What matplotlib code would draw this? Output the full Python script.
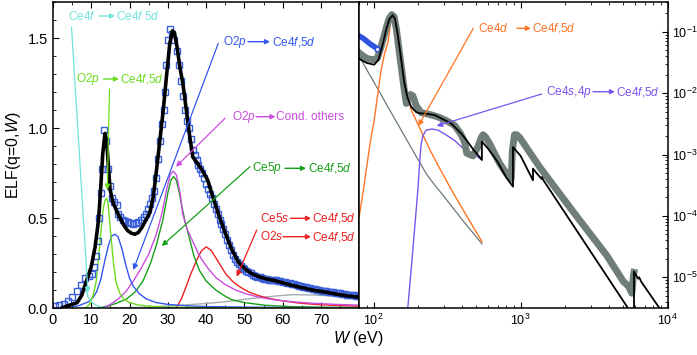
import matplotlib
matplotlib.use('Agg')
import matplotlib.pyplot as plt
from matplotlib.patches import FancyArrowPatch
from matplotlib.ticker import MultipleLocator, LogLocator, NullFormatter

plt.rcParams['font.family'] = ['Liberation Sans', 'DejaVu Sans']
plt.rcParams['mathtext.fontset'] = 'custom'
plt.rcParams['mathtext.rm'] = 'Liberation Sans'
plt.rcParams['mathtext.it'] = 'Liberation Sans:italic'

# ---- left panel: ELF, linear scale (W in eV) ----
w_exp = [0.5, 1.6, 2.8, 4.0, 5.0, 6.2, 7.3, 8.3, 9.3, 10.2, 10.8, 11.3, 11.7, 12.1, 12.5, 12.9,
         13.4, 13.8, 14.3, 14.9, 15.4, 16.0, 16.6, 17.1, 17.6, 18.2, 18.8, 19.5, 20.2, 20.9,
         21.6, 22.3, 23.0, 23.7, 24.3, 24.9, 25.4, 25.9, 26.4, 26.9, 27.4, 27.9, 28.4, 28.9,
         29.3, 29.6, 30.0, 30.5, 31.2, 31.7, 32.3, 32.9, 33.4, 33.9, 34.5, 35.0, 35.5, 36.0,
         36.5, 37.0, 37.5, 38.0, 38.5, 39.0, 39.5, 40.0, 40.5, 41.0, 41.5, 42.0, 42.5, 43.0,
         43.5, 44.0, 44.5, 45.0, 45.5, 46.0, 46.5, 47.0, 47.5, 48.0, 48.5, 49.0, 49.5, 50.0,
         50.5, 51.0, 51.6, 52.2, 52.8, 53.4, 54.0, 54.6, 55.2, 55.8, 56.4, 57.0, 57.6, 58.2,
         58.8, 59.4, 60.0, 60.6, 61.2, 61.8, 62.4, 63.0, 63.6, 64.2, 64.8, 65.4, 66.0, 66.6,
         67.2, 67.8, 68.4, 69.0, 69.6, 70.2, 70.8, 71.4, 72.0, 72.6, 73.2, 73.8, 74.4, 75.0,
         75.6, 76.2, 76.8, 77.4, 78.0, 78.6, 79.2, 79.8]
elf_exp = [0.012, 0.016, 0.024, 0.04, 0.06, 0.095, 0.13, 0.165, 0.18, 0.19, 0.23, 0.29, 0.37,
           0.5, 0.64, 0.77, 0.99, 0.93, 0.77, 0.68, 0.61, 0.59, 0.57, 0.525, 0.505, 0.49, 0.485,
           0.478, 0.472, 0.469, 0.475, 0.48, 0.49, 0.505, 0.525, 0.55, 0.58, 0.61, 0.65, 0.72,
           0.83, 0.93, 1.02, 1.1, 1.2, 1.35, 1.49, 1.55, 1.52, 1.49, 1.43, 1.35, 1.26, 1.18,
           1.1, 1.04, 1.0, 0.94, 0.88, 0.85, 0.82, 0.795, 0.77, 0.75, 0.72, 0.69, 0.66, 0.635,
           0.61, 0.58, 0.55, 0.52, 0.49, 0.465, 0.44, 0.41, 0.38, 0.35, 0.32, 0.295, 0.275,
           0.258, 0.243, 0.232, 0.223, 0.215, 0.207, 0.2, 0.193, 0.186, 0.18, 0.175, 0.17,
           0.166, 0.163, 0.16, 0.158, 0.156, 0.155, 0.153, 0.151, 0.149, 0.146, 0.143, 0.14,
           0.137, 0.134, 0.131, 0.128, 0.125, 0.122, 0.119, 0.116, 0.113, 0.11, 0.107, 0.104,
           0.102, 0.1, 0.097, 0.095, 0.093, 0.091, 0.089, 0.087, 0.085, 0.083, 0.081, 0.079,
           0.077, 0.075, 0.073, 0.072, 0.07, 0.069, 0.068]

w_tot = [2.4, 3.5, 5.0, 6.3, 7.5, 8.9, 10.0, 11.0, 11.9, 12.5, 13.0, 13.6, 14.0, 14.5, 14.9,
         15.6, 16.6, 17.5, 18.5, 19.5, 20.5, 21.4, 22.3, 23.3, 24.3, 25.3, 26.2, 27.0, 27.9,
         28.8, 29.7, 30.5, 31.2, 31.7, 32.4, 33.2, 33.9, 34.7, 35.6, 36.5, 37.5, 39.0, 40.4,
         41.7, 43.4, 45.1, 46.8, 48.6, 50.3, 52.0, 54.0, 56.0, 58.0, 60.0, 62.4, 65.0, 68.0,
         71.0, 74.0, 77.0, 80.0]
elf_tot = [0.0, 0.01, 0.02, 0.03, 0.07, 0.16, 0.23, 0.34, 0.49, 0.68, 0.86, 0.97, 0.93, 0.78,
           0.66, 0.59, 0.54, 0.5, 0.46, 0.43, 0.415, 0.41, 0.42, 0.45, 0.49, 0.53, 0.62, 0.76,
           0.93, 1.1, 1.3, 1.47, 1.54, 1.53, 1.45, 1.33, 1.25, 1.12, 0.97, 0.84, 0.81, 0.765,
           0.71, 0.62, 0.51, 0.41, 0.32, 0.25, 0.215, 0.19, 0.172, 0.16, 0.152, 0.14, 0.126,
           0.113, 0.099, 0.089, 0.077, 0.067, 0.06]

w_cyan = [8.6, 9.2, 10.0, 11.0, 12.0, 13.0, 15.0]
elf_cyan = [0.1, 0.06, 0.035, 0.018, 0.008, 0.003, 0.0]

w_lime = [8.5, 9.5, 10.5, 11.3, 11.9, 12.5, 13.1, 13.6, 14.0, 14.4, 15.0, 15.8, 16.5, 17.5,
          18.5, 20.0, 22.0, 25.0, 30.0, 40.0, 80.0]
elf_lime = [0.0, 0.02, 0.07, 0.15, 0.28, 0.42, 0.55, 0.6, 0.61, 0.58, 0.43, 0.25, 0.14, 0.08,
            0.05, 0.03, 0.018, 0.01, 0.005, 0.002, 0.0]

w_blue = [3, 5, 7, 9.3, 10.5, 11.4, 12.5, 13.5, 14.5, 15.3, 16.2, 17, 18, 19, 20, 21, 22.5,
          24.4, 27, 30, 35, 40, 50, 60, 80]
elf_blue = [0.0, 0.005, 0.015, 0.035, 0.06, 0.09, 0.16, 0.26, 0.35, 0.4, 0.41, 0.395, 0.33,
            0.24, 0.165, 0.12, 0.08, 0.05, 0.03, 0.02, 0.012, 0.008, 0.005, 0.003, 0.002]

w_mag = [13, 15, 17, 19, 21, 23, 25, 27, 28.5, 29.7, 30.6, 31.4, 32.2, 33.2, 33.9, 35, 36.5,
         38, 39, 40.5, 42.5, 45, 47.7, 50.5, 53.8, 58, 62.4, 68, 74, 80]
elf_mag = [0.0, 0.02, 0.05, 0.09, 0.15, 0.22, 0.3, 0.41, 0.53, 0.66, 0.74, 0.76, 0.74, 0.64,
           0.52, 0.44, 0.37, 0.3, 0.265, 0.22, 0.17, 0.13, 0.1, 0.078, 0.06, 0.045, 0.035,
           0.026, 0.02, 0.016]

w_ce5p = [12, 15, 17, 19.2, 21.5, 23.5, 25.5, 27, 28.7, 30, 30.8, 31.5, 32.2, 33, 33.5, 34.5,
          35.6, 36.8, 38.2, 40, 42.5, 45, 46.8, 50, 55.5, 62, 70, 80]
elf_ce5p = [0.0, 0.015, 0.03, 0.05, 0.09, 0.15, 0.25, 0.35, 0.49, 0.64, 0.71, 0.73, 0.71, 0.64,
            0.58, 0.48, 0.39, 0.29, 0.21, 0.15, 0.1, 0.065, 0.045, 0.03, 0.015, 0.008, 0.004,
            0.002]

w_red = [32.2, 33.5, 34.8, 36, 37.4, 38.7, 40, 41.3, 42.5, 43.8, 45.1, 46.8, 48.6, 51, 53.8,
         56.5, 59.8, 64, 68.4, 74, 80]
elf_red = [0.0, 0.05, 0.12, 0.19, 0.26, 0.315, 0.34, 0.32, 0.28, 0.235, 0.19, 0.15, 0.12,
           0.09, 0.068, 0.053, 0.04, 0.028, 0.02, 0.014, 0.01]

w_gray = [15, 25, 35, 40, 45, 50, 55, 60, 63, 67, 72, 76, 80]
elf_gray = [0.0, 0.005, 0.018, 0.025, 0.035, 0.048, 0.06, 0.07, 0.074, 0.073, 0.068, 0.062,
            0.055]

# ---- right panel: log-log (W in eV) ----
e_band = [80, 85, 90, 95, 100, 106]
v_band = [0.085, 0.078, 0.07, 0.063, 0.058, 0.053]

e_thick = [80, 85, 92, 100, 106, 112, 120, 127, 133, 138, 143, 150, 156, 162, 167, 172, 178,
           185, 195, 211, 240, 274, 310, 355, 390, 416, 430, 474, 510, 540, 556, 580, 616,
           719, 800, 863, 880, 909, 940, 984, 1350, 2270, 3835, 5000, 5430, 5700, 5860, 5900]
v_thick = [0.045, 0.04, 0.036, 0.035, 0.037, 0.055, 0.1, 0.16, 0.19, 0.175, 0.11, 0.045,
           0.022, 0.011, 0.0068, 0.0085, 0.0095, 0.009, 0.0062, 0.0048, 0.0045, 0.0041,
           0.0036, 0.003, 0.0022, 0.0016, 0.00105, 0.00095, 0.0013, 0.0019, 0.0021, 0.0019,
           0.0015, 0.00072, 0.00049, 0.0004, 0.0012, 0.0021, 0.0021, 0.0019, 0.00062,
           0.000118, 2.3e-5, 8.5e-6, 7.1e-6, 5.5e-6, 1.1e-5, 1.2e-5]

e_tot = [80, 90, 101, 108, 115, 122, 128, 135, 140, 146, 153, 162, 170, 180, 195, 206, 230,
         260, 300, 338, 394, 426, 480, 545, 545, 600, 700, 800, 887, 887, 1000, 1213, 1213,
         1300, 1390, 1400, 1420, 5600, 5900, 5900, 6300, 6400, 6600, 9000]
v_tot = [0.036, 0.031, 0.029, 0.035, 0.06, 0.11, 0.16, 0.187, 0.16, 0.09, 0.04, 0.0145,
         0.0085, 0.006, 0.0049, 0.0047, 0.0046, 0.0044, 0.0037, 0.0032, 0.0022, 0.00174,
         0.00118, 0.00082, 0.00162, 0.00125, 0.00075, 0.00042, 0.0003, 0.00132, 0.00095,
         0.00038, 0.00059, 0.00048, 0.0004, 0.00043, 0.00039, 2.7e-6, 2.2e-6, 1.23e-5,
         9.5e-6, 1.0e-5, 8.5e-6, 2.9e-6]

e_orange = [80, 85, 90, 95, 101, 107, 113, 119, 125, 130, 135, 140, 146, 153, 162, 170, 180,
            206, 240, 281, 350, 450, 546]
v_orange = [1e-4, 2.5e-4, 6.5e-4, 0.0016, 0.0036, 0.01, 0.025, 0.045, 0.065, 0.13, 0.18, 0.16,
            0.09, 0.04, 0.0145, 0.009, 0.0054, 0.0027, 0.00123, 6e-4, 2.3e-4, 8.3e-5, 3.8e-5]

e_gray = [80, 90, 100, 112, 125, 150, 180, 229, 260, 300, 400, 546]
v_gray = [0.04, 0.024, 0.0155, 0.0096, 0.006, 0.0028, 0.0013, 4.8e-4, 3.2e-4, 2.1e-4,
          8.7e-5, 3.5e-5]

e_purple = [171, 180, 190, 200, 205, 210, 216, 228, 250, 274, 310, 355, 400, 440, 500, 546]
v_purple = [3.2e-6, 1.3e-5, 6e-5, 2.6e-4, 6.5e-4, 0.0014, 0.002, 0.0025, 0.0026, 0.0025,
            0.0021, 0.0017, 0.0013, 0.00112, 0.00095, 0.00081]

FW, FH = 697, 355
fig = plt.figure(figsize=(FW / 100, FH / 100), dpi=100)
ax1 = fig.add_axes([53 / FW, 1 - 308 / FH, (359.3 - 53) / FW, 306 / FH])
ax2 = fig.add_axes([359.3 / FW, 1 - 308 / FH, (667.7 - 359.3) / FW, 306 / FH])


def P(x, y):
    # pixel position (from top-left) -> figure fraction
    return (x / FW, 1 - y / FH)


def arrow(a, b, c, lw=1.0, ms=7):
    fig.add_artist(FancyArrowPatch(P(*a), P(*b), transform=fig.transFigure,
                                   arrowstyle='-|>', color=c, lw=lw, mutation_scale=ms,
                                   shrinkA=0, shrinkB=0, zorder=5))


# left panel curves
ax1.plot(w_gray, elf_gray, color='#a3adb5', lw=1)
ax1.plot(w_red, elf_red, color='#ee2020', lw=1)
ax1.plot(w_ce5p, elf_ce5p, color='#18a018', lw=1)
ax1.plot(w_mag, elf_mag, color='#c94ddd', lw=1)
ax1.plot(w_blue, elf_blue, color='#3358ee', lw=1)
ax1.plot(w_lime, elf_lime, color='#6bdc1e', lw=1)
ax1.plot(w_cyan, elf_cyan, color='#72e4d8', lw=1)
ax1.plot(w_exp, elf_exp, 's', ms=4, mfc='none', mec='#3a5fd9', mew=1)
ax1.plot(w_tot, elf_tot, color='black', lw=2.6)

ax1.set_xlim(0, 80)
ax1.set_ylim(0, 1.7)
ax1.set_xticks(range(0, 80, 10))
ax1.xaxis.set_minor_locator(MultipleLocator(5))
ax1.set_yticks([0, 0.5, 1.0, 1.5])
ax1.yaxis.set_minor_locator(MultipleLocator(0.1))
ax1.tick_params(which='both', direction='in', top=True, right=False, labelsize=10.5)
ax1.tick_params(which='major', length=4)
ax1.tick_params(which='minor', length=2)
ax1.set_ylabel(r'ELF(q=0,$W$)', fontsize=11.5, labelpad=3)

# right panel curves
ax2.plot(e_gray, v_gray, color='#6b7a74', lw=0.9)
ax2.plot(e_orange, v_orange, color='#ff7424', lw=1)
ax2.plot(e_purple, v_purple, color='#7a55ee', lw=1)
ax2.plot(e_thick, v_thick, color='#707e7a', lw=5, solid_joinstyle='round')
ax2.plot(e_band, v_band, color='#2f55e0', lw=4)
ax2.plot(e_band[-1:], v_band[-1:], 's', ms=3.5, mfc='white', mec='#2f55e0', mew=1)
ax2.plot(e_tot, v_tot, color='black', lw=1.3)

ax2.set_xscale('log')
ax2.set_yscale('log')
ax2.set_xlim(80, 1e4)
ax2.set_ylim(3.16e-6, 0.305)
ax2.yaxis.tick_right()
ax2.xaxis.set_minor_locator(LogLocator(subs=range(2, 10)))
ax2.xaxis.set_minor_formatter(NullFormatter())
ax2.yaxis.set_minor_locator(LogLocator(subs=range(2, 10), numticks=20))
ax2.yaxis.set_minor_formatter(NullFormatter())
ax2.tick_params(which='both', direction='in', top=True, left=False, right=True, labelsize=9)
ax2.tick_params(axis='y', pad=3)
ax2.tick_params(which='major', length=4)
ax2.tick_params(which='minor', length=2)

for ax in (ax1, ax2):
    for s in ax.spines.values():
        s.set_linewidth(1.1)

fig.text(*P(358, 339), r'$W$ (eV)', ha='center', va='center', fontsize=11.5)

# annotation labels: (left text, x0, arrow x1, arrow x2, right text, x3, y, color)
FS = 8.6
labels = [
    (r'Ce4$f$', 68, 99, 115, r'Ce4$f$ 5$d$', 116.5, 16, '#72e4d8'),
    (r'O2$p$', 76, 103.5, 119, r'Ce4$f$,5$d$', 120.5, 79, '#6bdc1e'),
    (r'O2$p$', 223, 248, 270, r'Ce4$f$,5$d$', 271.5, 41.7, '#3358ee'),
    (r'O2$p$', 231.5, 256, 275.5, 'Cond. others', 276.5, 116.7, '#c94ddd'),
    (r'Ce5$p$', 252.5, 285, 306, r'Ce4$f$,5$d$', 307.5, 168.3, '#18a018'),
    (r'Ce5$s$', 260, 290.5, 311, r'Ce4$f$,5$d$', 311.5, 218.3, '#ee2020'),
    (r'O2$s$', 260, 283, 311, r'Ce4$f$,5$d$', 311.5, 236.7, '#ee2020'),
    (r'Ce4$d$', 478, 517, 531, r'Ce4$f$,5$d$', 532, 28.3, '#ff7424'),
    (r'Ce4$s$,4$p$', 546.5, 593, 615, r'Ce4$f$,5$d$', 616.5, 91.7, '#7a55ee'),
]
for left, x0, x1, x2, right, x3, y, c in labels:
    fig.text(*P(x0, y), left, color=c, fontsize=FS, ha='left', va='center')
    arrow((x1, y), (x2, y), c)
    fig.text(*P(x3, y), right, color=c, fontsize=FS, ha='left', va='center')

# pointer arrows from labels to curves
pointers = [
    ((71.5, 27), (88, 293), '#72e4d8'),
    ((109.5, 89), (107.3, 190), '#6bdc1e'),
    ((218.3, 43.3), (133.3, 270), '#3358ee'),
    ((225, 118.3), (176, 166.7), '#c94ddd'),
    ((250, 166.7), (161.7, 246), '#18a018'),
    ((256.7, 230), (236.7, 276.7), '#ee2020'),
    ((473.3, 28.3), (418.3, 126), '#ff7424'),
    ((541.7, 94), (436.7, 126), '#7a55ee'),
]
for a, b, c in pointers:
    arrow(a, b, c, lw=0.9, ms=8)

fig.savefig('out.png', dpi=100)
